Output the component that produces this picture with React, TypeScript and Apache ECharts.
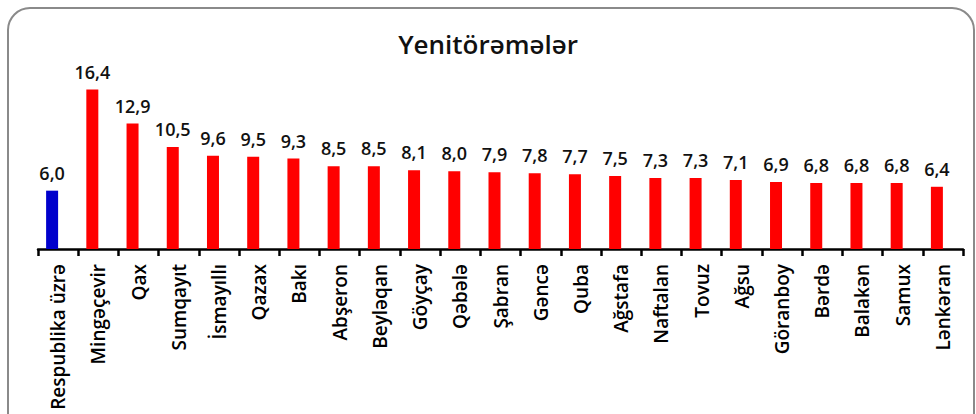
import React, { useEffect, useRef } from "react";
import * as echarts from "echarts";

const categories = [
  "Respublika üzrə", "Mingəçevir", "Qax", "Sumqayıt", "İsmayıllı", "Qazax", "Bakı",
  "Abşeron", "Beyləqan", "Göyçay", "Qəbələ", "Şabran", "Gəncə", "Quba", "Ağstafa",
  "Naftalan", "Tovuz", "Ağsu", "Göranboy", "Bərdə", "Balakən", "Samux", "Lənkəran",
];
const values = [6.0, 16.4, 12.9, 10.5, 9.6, 9.5, 9.3, 8.5, 8.5, 8.1, 8.0, 7.9, 7.8, 7.7, 7.5, 7.3, 7.3, 7.1, 6.9, 6.8, 6.8, 6.8, 6.4];
const highlightIndex = 0;
const titleText = "Yenitörəmələr";

export default function App() {
  const ref = useRef<HTMLDivElement>(null);
  useEffect(() => {
    if (!ref.current) return;
    const chart = echarts.init(ref.current, null, { renderer: "svg" });
    const font = "'Open Sans', sans-serif";
    chart.setOption({
      animation: false,
      backgroundColor: "#ffffff",
      title: {
        text: titleText,
        left: "center",
        top: 31,
        padding: 0,
        textStyle: { fontFamily: font, fontWeight: 600, fontSize: 26, color: "#111" },
      },
      graphic: [
        {
          type: "rect",
          shape: { x: 8, y: 8, width: 966, height: 440, r: 22 },
          style: { fill: "none", stroke: "#8a8a8a", lineWidth: 2 },
          silent: true,
        },
      ],
      grid: { left: 38, right: 13, top: 74, bottom: 165, containLabel: false },
      xAxis: {
        type: "category",
        data: categories,
        boundaryGap: true,
        axisLine: { show: true, lineStyle: { color: "#000", width: 2.5 } },
        axisTick: { show: true, length: 7, lineStyle: { color: "#000", width: 2.5 } },
        axisLabel: {
          interval: 0,
          rotate: 90,
          margin: 15,
          fontFamily: font,
          fontWeight: 600,
          fontSize: 19,
          color: "#000",
        },
      },
      yAxis: {
        type: "value",
        min: 0,
        max: 18,
        show: false,
        splitLine: { show: false },
      },
      series: [
        {
          type: "bar",
          data: values.map((v, i) => ({
            value: v,
            itemStyle: { color: i === highlightIndex ? "#0000cc" : "#ff0000" },
          })),
          barWidth: 12,
          barGap: "0%",
          label: {
            show: true,
            position: "top",
            distance: 9,
            formatter: (p: any) => Number(p.value).toFixed(1).replace(".", ","),
            fontFamily: font,
            fontWeight: 600,
            fontSize: 18,
            color: "#111",
          },
        },
        {
          type: "bar",
          data: values.map(() => null),
          barWidth: 12,
          barGap: "0%",
        },
      ],
    });
    return () => chart.dispose();
  }, []);
  return (
    <div
      ref={ref}
      style={{ position: "absolute", left: 0, top: 0, width: 976, height: 414, background: "#fff" }}
    />
  );
}
